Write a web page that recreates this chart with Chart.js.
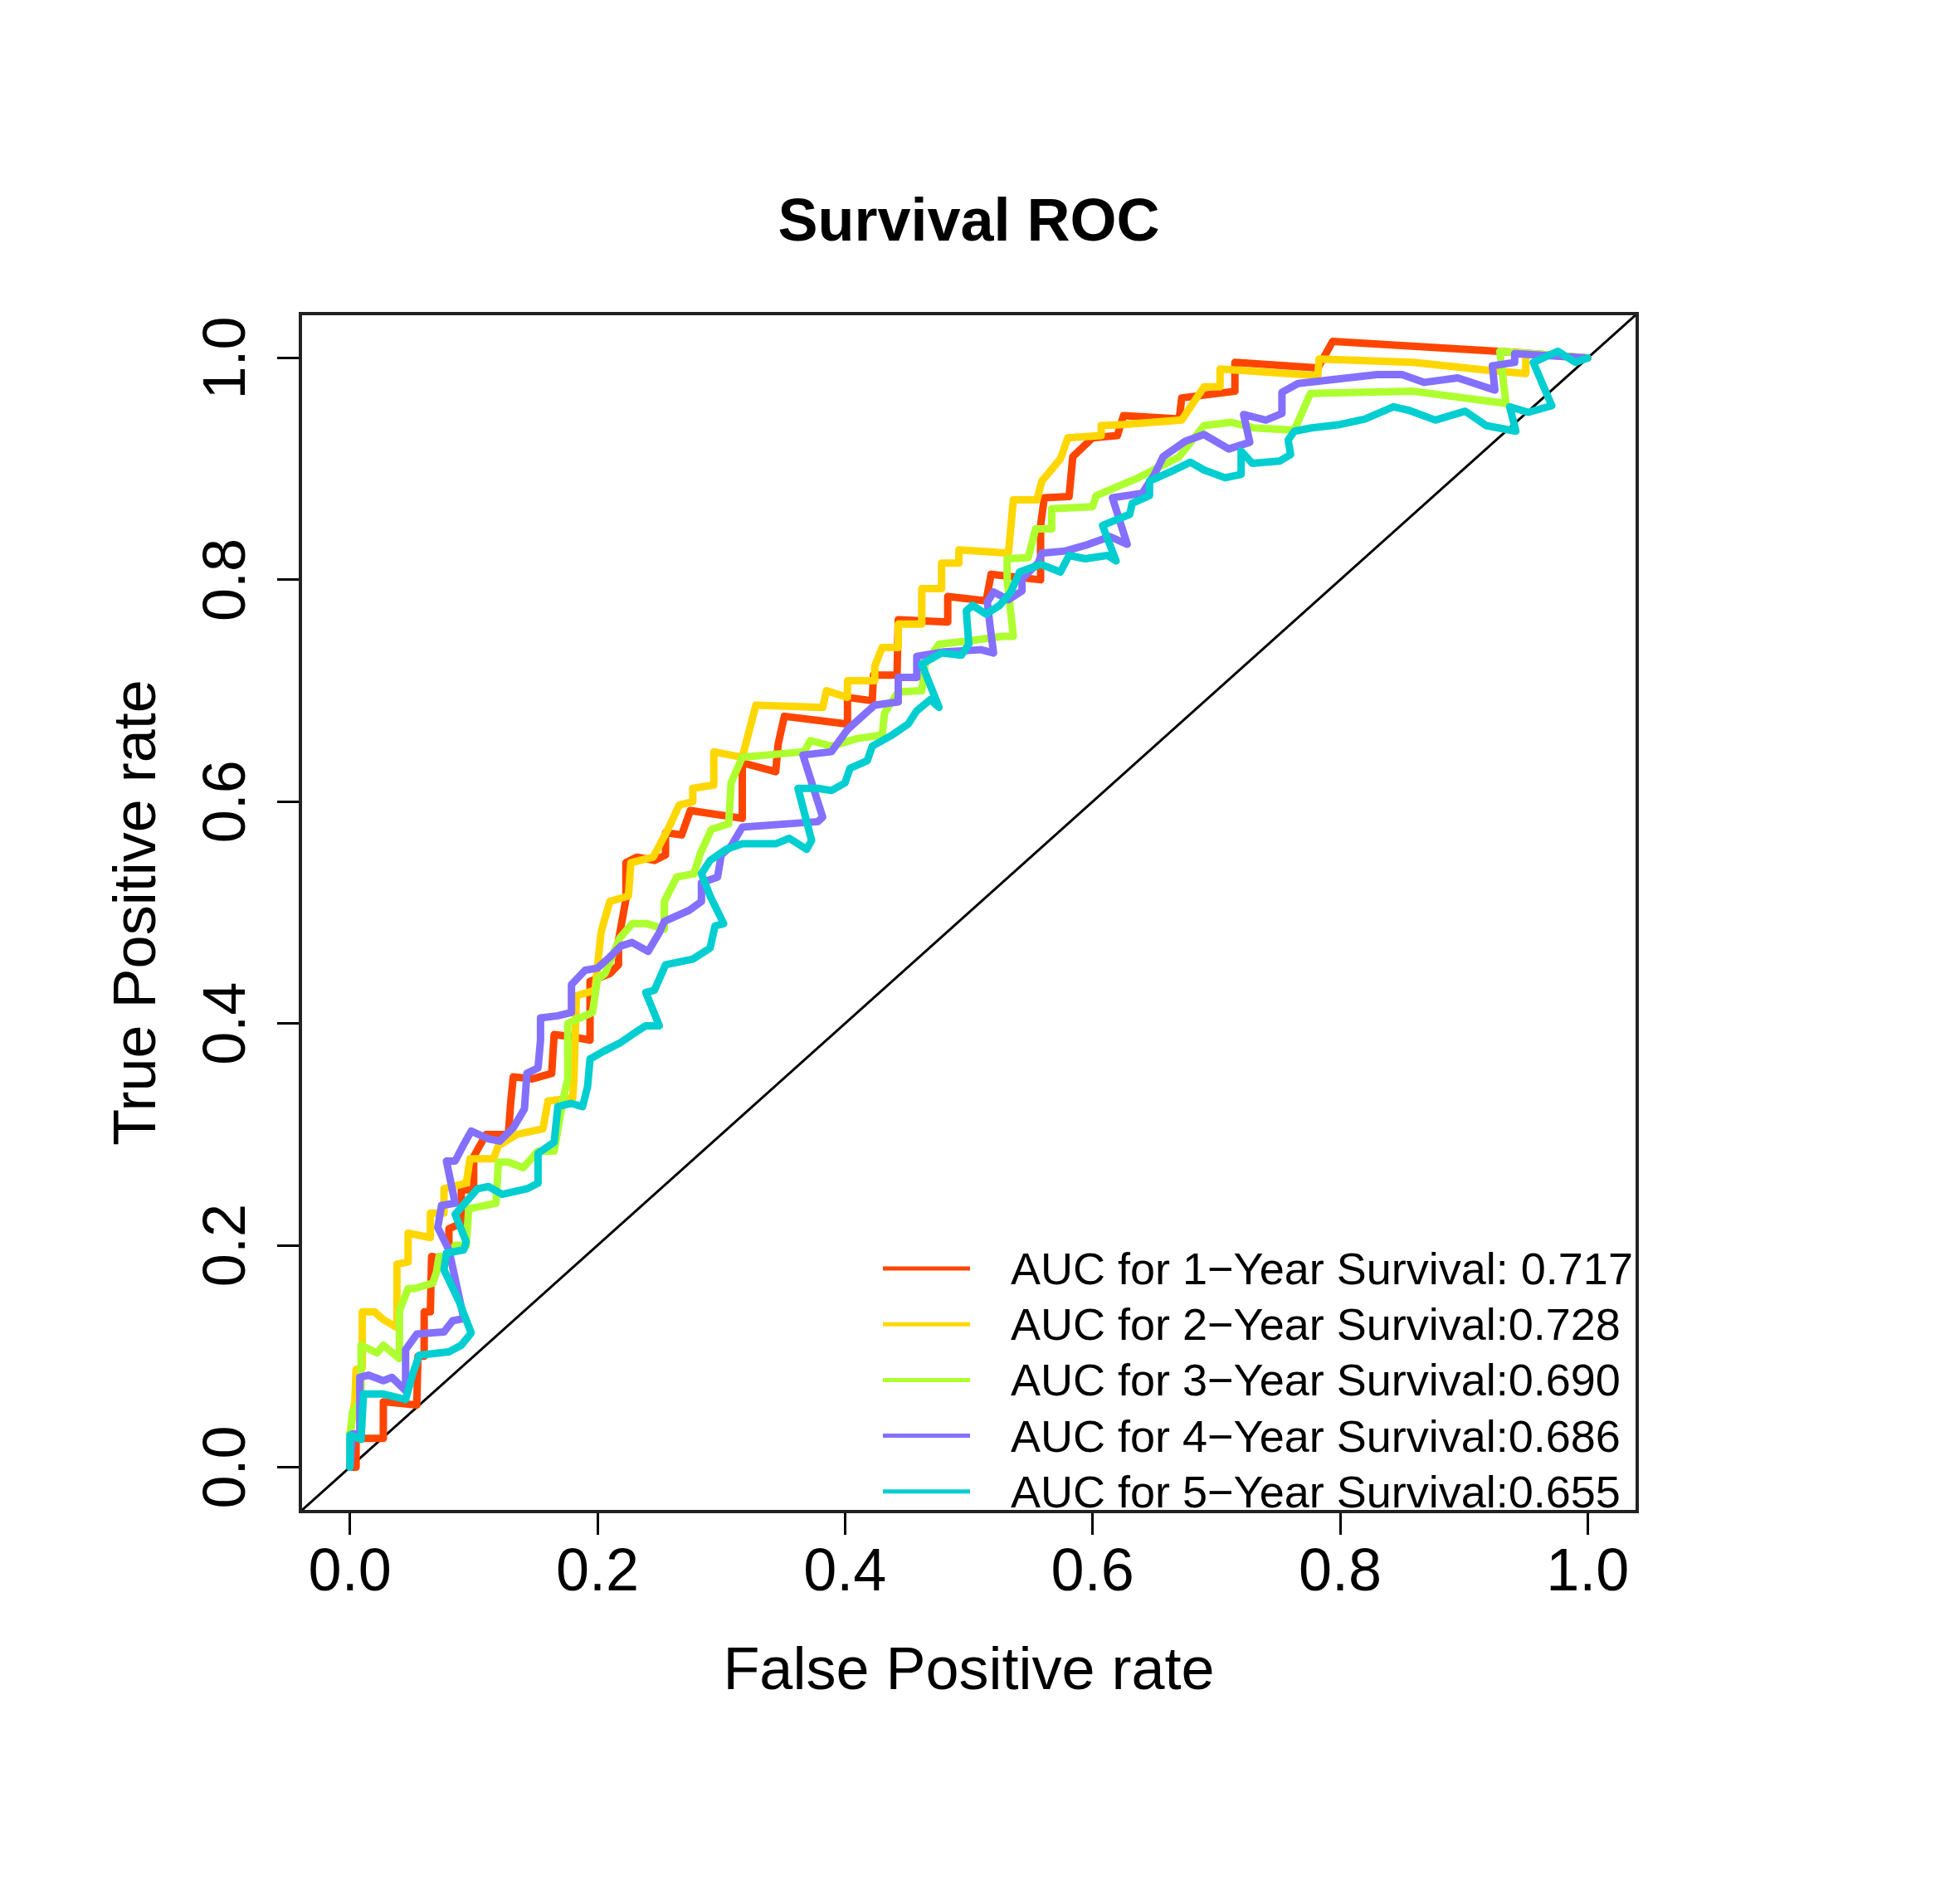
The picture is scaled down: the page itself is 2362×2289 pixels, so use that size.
<!DOCTYPE html>
<html lang="en">
<head>
    <meta charset="UTF-8">
    <title>Survival ROC</title>
    <script src="https://cdn.jsdelivr.net/npm/chart.js"></script>
    <style>
        html, body { margin: 0; padding: 0; background: #fff; }
        canvas { display: block; }
    </style>
</head>
<body>
    <canvas id="roc-chart" width="2362" height="2289"></canvas>

    <script>
        // ROC curves: [false positive rate, true positive rate]
        const roc1 = [[0,0],[0.005,0],[0.005,0.026],[0.027,0.026],[0.027,0.059],[0.054,0.056],[0.055,0.10],[0.06,0.10],[0.06,0.14],[0.065,0.14],[0.066,0.19],[0.08,0.186],[0.08,0.215],[0.09,0.22],[0.09,0.25],[0.10,0.25],[0.10,0.28],[0.11,0.30],[0.128,0.30],[0.13,0.33],[0.132,0.352],[0.147,0.35],[0.163,0.355],[0.165,0.39],[0.18,0.388],[0.194,0.385],[0.194,0.438],[0.21,0.445],[0.217,0.453],[0.217,0.475],[0.223,0.512],[0.223,0.545],[0.232,0.55],[0.246,0.547],[0.255,0.552],[0.255,0.572],[0.268,0.57],[0.275,0.592],[0.317,0.585],[0.317,0.635],[0.344,0.627],[0.346,0.652],[0.351,0.677],[0.402,0.67],[0.402,0.694],[0.422,0.691],[0.423,0.714],[0.442,0.714],[0.443,0.764],[0.483,0.762],[0.483,0.785],[0.514,0.781],[0.518,0.805],[0.558,0.80],[0.558,0.849],[0.561,0.874],[0.581,0.875],[0.584,0.911],[0.60,0.928],[0.62,0.93],[0.625,0.948],[0.67,0.945],[0.672,0.964],[0.715,0.97],[0.715,0.996],[0.782,0.991],[0.794,1.015],[0.942,1.005],[1,1]];
        const roc2 = [[0,0.03],[0.004,0.06],[0.005,0.088],[0.010,0.09],[0.010,0.14],[0.02,0.14],[0.027,0.133],[0.038,0.126],[0.038,0.183],[0.047,0.185],[0.047,0.211],[0.065,0.207],[0.065,0.229],[0.076,0.229],[0.076,0.251],[0.094,0.256],[0.097,0.278],[0.116,0.278],[0.12,0.29],[0.135,0.30],[0.156,0.305],[0.16,0.33],[0.18,0.333],[0.181,0.35],[0.183,0.425],[0.198,0.43],[0.203,0.483],[0.21,0.51],[0.225,0.515],[0.227,0.545],[0.245,0.55],[0.257,0.575],[0.266,0.597],[0.277,0.60],[0.277,0.612],[0.294,0.615],[0.294,0.645],[0.317,0.640],[0.328,0.687],[0.382,0.685],[0.385,0.70],[0.402,0.694],[0.402,0.709],[0.424,0.709],[0.424,0.722],[0.43,0.739],[0.443,0.739],[0.443,0.760],[0.462,0.760],[0.462,0.792],[0.478,0.792],[0.478,0.815],[0.492,0.815],[0.492,0.827],[0.532,0.824],[0.536,0.872],[0.555,0.872],[0.559,0.889],[0.574,0.909],[0.58,0.928],[0.607,0.93],[0.607,0.939],[0.625,0.94],[0.672,0.944],[0.69,0.974],[0.703,0.974],[0.703,0.99],[0.782,0.984],[0.783,0.999],[0.859,0.996],[0.919,0.989],[0.95,0.986],[0.95,1.004],[1,1]];
        const roc3 = [[0,0.02],[0.002,0.05],[0.009,0.06],[0.009,0.11],[0.022,0.103],[0.027,0.11],[0.04,0.098],[0.04,0.141],[0.047,0.161],[0.052,0.161],[0.067,0.166],[0.07,0.176],[0.072,0.19],[0.08,0.19],[0.085,0.20],[0.094,0.20],[0.096,0.233],[0.118,0.238],[0.12,0.275],[0.128,0.275],[0.14,0.27],[0.152,0.285],[0.165,0.285],[0.172,0.33],[0.176,0.35],[0.176,0.40],[0.196,0.41],[0.20,0.44],[0.206,0.445],[0.218,0.477],[0.228,0.49],[0.24,0.49],[0.254,0.485],[0.254,0.51],[0.264,0.532],[0.278,0.535],[0.283,0.553],[0.292,0.575],[0.306,0.58],[0.308,0.617],[0.317,0.640],[0.367,0.645],[0.372,0.655],[0.389,0.65],[0.41,0.657],[0.43,0.66],[0.432,0.68],[0.443,0.699],[0.462,0.70],[0.465,0.725],[0.476,0.742],[0.50,0.745],[0.527,0.749],[0.536,0.749],[0.531,0.80],[0.531,0.819],[0.548,0.82],[0.554,0.846],[0.567,0.846],[0.567,0.864],[0.6,0.866],[0.603,0.876],[0.635,0.891],[0.67,0.911],[0.69,0.939],[0.712,0.942],[0.73,0.937],[0.763,0.935],[0.776,0.968],[0.859,0.970],[0.934,0.959],[0.929,1.006],[1,1]];
        const roc4 = [[0,0],[0.002,0.03],[0.008,0.03],[0.008,0.081],[0.015,0.083],[0.027,0.078],[0.034,0.081],[0.045,0.069],[0.045,0.106],[0.054,0.12],[0.076,0.122],[0.083,0.132],[0.092,0.134],[0.080,0.196],[0.071,0.216],[0.074,0.236],[0.085,0.238],[0.078,0.276],[0.085,0.276],[0.092,0.291],[0.098,0.303],[0.112,0.296],[0.121,0.294],[0.132,0.306],[0.141,0.323],[0.143,0.355],[0.152,0.36],[0.154,0.385],[0.154,0.405],[0.168,0.407],[0.179,0.41],[0.179,0.435],[0.19,0.448],[0.2,0.45],[0.21,0.46],[0.219,0.47],[0.228,0.473],[0.241,0.465],[0.25,0.482],[0.254,0.492],[0.274,0.502],[0.284,0.51],[0.284,0.527],[0.297,0.532],[0.30,0.552],[0.308,0.56],[0.317,0.577],[0.378,0.582],[0.382,0.586],[0.366,0.642],[0.389,0.645],[0.402,0.665],[0.424,0.687],[0.443,0.69],[0.443,0.712],[0.458,0.712],[0.458,0.731],[0.48,0.735],[0.51,0.737],[0.52,0.734],[0.517,0.76],[0.515,0.78],[0.52,0.789],[0.532,0.782],[0.543,0.79],[0.543,0.801],[0.556,0.815],[0.559,0.824],[0.578,0.826],[0.594,0.831],[0.614,0.839],[0.628,0.832],[0.616,0.874],[0.64,0.878],[0.65,0.895],[0.657,0.911],[0.675,0.925],[0.69,0.931],[0.71,0.918],[0.727,0.924],[0.722,0.949],[0.74,0.944],[0.753,0.95],[0.753,0.969],[0.766,0.977],[0.83,0.985],[0.85,0.985],[0.868,0.978],[0.895,0.982],[0.925,0.971],[0.923,0.993],[0.941,0.996],[0.941,1.004],[1,1]];
        const roc5 = [[0,0],[0,0.029],[0.009,0.025],[0.011,0.066],[0.027,0.066],[0.045,0.061],[0.051,0.085],[0.056,0.101],[0.08,0.104],[0.09,0.11],[0.098,0.121],[0.088,0.15],[0.076,0.178],[0.078,0.193],[0.092,0.196],[0.094,0.203],[0.085,0.228],[0.103,0.251],[0.112,0.253],[0.123,0.246],[0.143,0.251],[0.152,0.256],[0.152,0.283],[0.165,0.293],[0.168,0.325],[0.179,0.328],[0.188,0.325],[0.192,0.343],[0.194,0.368],[0.205,0.375],[0.219,0.383],[0.228,0.39],[0.239,0.398],[0.25,0.398],[0.239,0.428],[0.246,0.43],[0.255,0.453],[0.277,0.458],[0.291,0.468],[0.295,0.488],[0.302,0.49],[0.291,0.515],[0.284,0.535],[0.291,0.547],[0.304,0.557],[0.317,0.562],[0.344,0.562],[0.355,0.567],[0.369,0.557],[0.373,0.565],[0.362,0.612],[0.378,0.612],[0.389,0.610],[0.400,0.617],[0.404,0.63],[0.418,0.637],[0.422,0.65],[0.438,0.66],[0.451,0.67],[0.458,0.682],[0.469,0.692],[0.476,0.685],[0.462,0.724],[0.478,0.734],[0.494,0.732],[0.5,0.742],[0.498,0.772],[0.503,0.777],[0.514,0.769],[0.525,0.777],[0.534,0.789],[0.541,0.807],[0.558,0.814],[0.574,0.807],[0.581,0.822],[0.594,0.819],[0.612,0.822],[0.619,0.817],[0.608,0.849],[0.63,0.859],[0.632,0.869],[0.646,0.876],[0.646,0.889],[0.666,0.899],[0.679,0.906],[0.69,0.899],[0.707,0.892],[0.72,0.895],[0.72,0.916],[0.729,0.905],[0.751,0.907],[0.760,0.913],[0.758,0.926],[0.763,0.934],[0.777,0.937],[0.80,0.94],[0.82,0.945],[0.843,0.956],[0.855,0.953],[0.877,0.944],[0.901,0.952],[0.918,0.939],[0.942,0.934],[0.937,0.956],[0.952,0.951],[0.971,0.957],[0.956,0.996],[0.976,1.006],[0.99,0.996],[1,1]];

        const curveLabels = [
            'AUC for 1\u2212Year Survival: 0.717',
            'AUC for 2\u2212Year Survival:0.728',
            'AUC for 3\u2212Year Survival:0.690',
            'AUC for 4\u2212Year Survival:0.686',
            'AUC for 5\u2212Year Survival:0.655'
        ];
        const curveColors = ['#FF4500', '#FFD700', '#ADFF2F', '#8470FF', '#00CED1'];

        const xTicks = [0, 0.2, 0.4, 0.6, 0.8, 1.0];
        const yTicks = [0, 0.2, 0.4, 0.6, 0.8, 1.0];
        const axisMin = -0.04;
        const axisMax = 1.04;
        const diagonal = [[axisMin, axisMin], [axisMax, axisMax]];

        const titleText = 'Survival ROC';
        const xTitle = 'False Positive rate';
        const yTitle = 'True Positive rate';

        const FONT = '"Liberation Sans", Arial, Helvetica, sans-serif';

        const toPoints = arr => arr.map(p => ({ x: p[0], y: p[1] }));

        const datasets = [roc1, roc2, roc3, roc4, roc5].map((arr, i) => ({
            label: curveLabels[i],
            data: toPoints(arr),
            borderColor: curveColors[i],
            backgroundColor: curveColors[i],
            borderWidth: 9,
            borderCapStyle: 'round',
            borderJoinStyle: 'round',
            pointRadius: 0,
            showLine: true,
            tension: 0,
            order: 5 - i
        }));
        datasets.push({
            label: 'diagonal',
            data: toPoints(diagonal),
            borderColor: '#000',
            borderWidth: 3,
            pointRadius: 0,
            showLine: true,
            order: 10
        });

        // title, axis titles, y tick labels, box and legend drawn R-style
        const decor = {
            id: 'decor',
            afterDraw(chart) {
                const ctx = chart.ctx;
                const a = chart.chartArea;
                const ys = chart.scales.y;
                const midX = (a.left + a.right) / 2;
                const midY = (a.top + a.bottom) / 2;
                ctx.save();

                // plot box
                ctx.strokeStyle = '#222';
                ctx.lineWidth = 4;
                ctx.strokeRect(a.left, a.top, a.right - a.left, a.bottom - a.top);

                ctx.fillStyle = '#000';
                ctx.textBaseline = 'alphabetic';

                ctx.font = 'bold 72px ' + FONT;
                ctx.textAlign = 'center';
                ctx.fillText(titleText, midX, 290);

                ctx.font = '72px ' + FONT;
                ctx.fillText(xTitle, midX, 2036);

                ctx.save();
                ctx.translate(187, midY);
                ctx.rotate(-Math.PI / 2);
                ctx.fillText(yTitle, 0, 0);
                ctx.restore();

                // y tick labels, rotated like R's default las = 0
                ys.ticks.forEach(t => {
                    ctx.save();
                    ctx.translate(295, ys.getPixelForValue(t.value));
                    ctx.rotate(-Math.PI / 2);
                    ctx.fillText(t.value.toFixed(1), 0, 0);
                    ctx.restore();
                });

                // legend
                ctx.font = '54px ' + FONT;
                ctx.textAlign = 'left';
                curveLabels.forEach((lab, i) => {
                    const y = 1529 + i * 67.2;
                    ctx.strokeStyle = curveColors[i];
                    ctx.lineWidth = 5;
                    ctx.beginPath();
                    ctx.moveTo(1064, y);
                    ctx.lineTo(1169, y);
                    ctx.stroke();
                    ctx.fillText(lab, 1218, y + 19);
                });
                ctx.restore();
            }
        };

        const tickGrid = {
            display: true,
            drawOnChartArea: false,
            drawTicks: true,
            tickLength: 28,
            color: '#000',
            lineWidth: 3
        };

        new Chart(document.getElementById('roc-chart'), {
            type: 'scatter',
            data: { datasets: datasets },
            options: {
                responsive: false,
                animation: false,
                devicePixelRatio: 1,
                layout: { padding: { top: 378, right: 389, bottom: 0, left: 0 } },
                plugins: {
                    legend: { display: false },
                    title: { display: false },
                    tooltip: { enabled: false }
                },
                scales: {
                    x: {
                        type: 'linear',
                        min: axisMin,
                        max: axisMax,
                        afterBuildTicks: s => { s.ticks = xTicks.map(v => ({ value: v })); },
                        afterFit: s => { s.height = 467; },
                        grid: tickGrid,
                        border: { display: false },
                        ticks: {
                            font: { family: FONT, size: 72 },
                            color: '#000',
                            padding: 4,
                            minRotation: 0,
                            maxRotation: 0,
                            autoSkip: false,
                            callback: v => v.toFixed(1)
                        }
                    },
                    y: {
                        type: 'linear',
                        min: axisMin,
                        max: axisMax,
                        afterBuildTicks: s => { s.ticks = yTicks.map(v => ({ value: v })); },
                        afterFit: s => { s.width = 362; },
                        grid: tickGrid,
                        border: { display: false },
                        ticks: { display: false }
                    }
                }
            },
            plugins: [decor]
        });
    </script>
</body>
</html>
